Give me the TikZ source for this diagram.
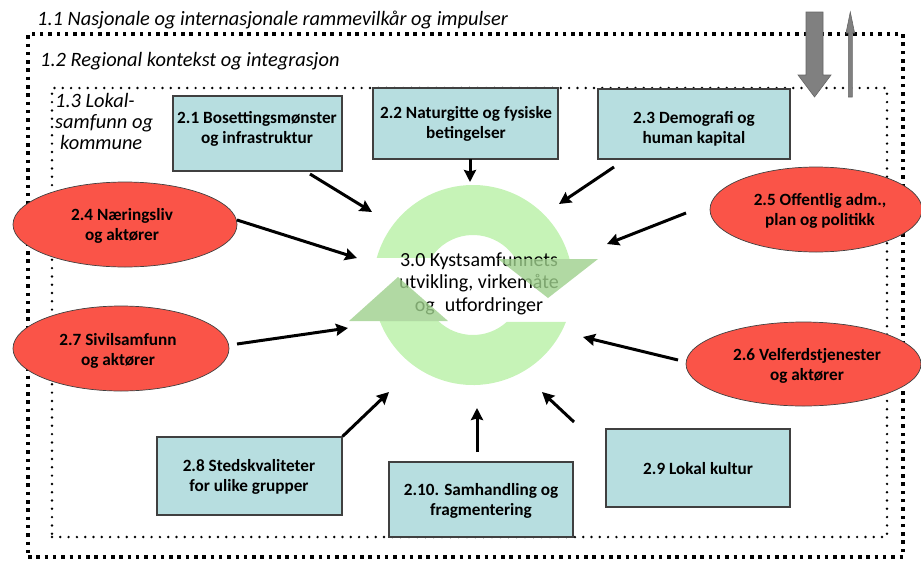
\documentclass[tikz,border=0pt]{standalone}
\usepackage{fontspec}
\setmainfont{Carlito}
\usetikzlibrary{arrows.meta,shapes.geometric,calc}
\definecolor{boxfill}{RGB}{183,222,224}
\definecolor{boxline}{RGB}{64,64,64}
\definecolor{ellfill}{RGB}{250,84,72}
\definecolor{ringgreen}{RGB}{198,243,183}
\definecolor{headgreen}{RGB}{158,208,140}
\definecolor{grayarrow}{RGB}{128,128,128}
\begin{document}
\begin{tikzpicture}[x=1pt,y=-1pt,
  box/.style={draw=boxline, line width=1.2pt, fill=boxfill, inner sep=0pt},
  ell/.style={ellipse, draw=black!75, line width=0.7pt, fill=ellfill, inner sep=0pt},
  lbl/.style={font=\fontsize{17.2}{20}\selectfont\bfseries, align=center, inner sep=0pt},
  conn/.style={line width=3pt, -{Stealth[length=12pt,width=12pt,inset=1.5pt]}},
  outerframe/.style={draw, line width=3.5pt, dash pattern=on 3.5pt off 4.8pt},
  innerframe/.style={draw, line width=2.7pt, line cap=round, dash pattern=on 0pt off 8.3pt},
  ttl/.style={font=\fontsize{20.4}{21}\selectfont\itshape, anchor=base west, inner sep=0pt},
  grayshape/.style={fill=grayarrow, draw=black!60, line width=0.6pt}
]
\useasboundingbox (0,0) rectangle (921,560);

% frames
\node[outerframe, minimum width=875pt, minimum height=523pt, inner sep=0pt] (f12) at (465.5,295.5) {};
\node[innerframe, minimum width=835pt, minimum height=449pt, inner sep=0pt] (f13) at (469.5,312.5) {};

% titles
\node[ttl] (t11) at (37,25) {1.1 Nasjonale og internasjonale rammevilkår og impulser};
\node[ttl] (t12) at (40,66) {1.2 Regional kontekst og integrasjon};
\node[ttl] (t13a) at (55,107) {1.3 Lokal-};
\node[ttl] (t13b) at (55,128) {samfunn og};
\node[ttl] (t13c) at (60,149) {kommune};

% grey arrows
\filldraw[grayshape] (806,12) -- (823,12) -- (823,75) -- (831,75) -- (814.5,97) -- (798,75) -- (806,75) -- cycle;
\filldraw[grayshape] (848.3,97) -- (848.3,33) -- (846,33) -- (850.3,12) -- (854.6,33) -- (852.3,33) -- (852.3,97) -- cycle;

% circular arrows
\coordinate (rc) at (473,285);
\fill[ringgreen] ($(rc)+(195.7:100)$) arc[start angle=195.7,end angle=344.9,radius=100]
   -- ($(rc)+(328.7:50)$) arc[start angle=328.7,end angle=212.7,radius=50] -- cycle;
\fill[ringgreen] ($(rc)+(21.7:100)$) arc[start angle=21.7,end angle=158.9,radius=100]
   -- ($(rc)+(133.9:50)$) arc[start angle=133.9,end angle=47.7,radius=50] -- cycle;

% boxes
\node[box, minimum width=169pt, minimum height=75pt] (b21) at (257.5,133.5) {};
\node[box, minimum width=185pt, minimum height=71pt] (b22) at (465.5,123.5) {};
\node[box, minimum width=192pt, minimum height=70pt] (b23) at (694,124) {};
\node[box, minimum width=185pt, minimum height=78pt] (b28) at (249.5,476) {};
\node[box, minimum width=184pt, minimum height=75pt] (b210) at (481,499.5) {};
\node[box, minimum width=184pt, minimum height=78pt] (b29) at (698,468) {};

% ellipses (over the frames)
\node[ell, minimum width=224pt, minimum height=85pt] (e24) at (125,224.5) {};
\node[ell, minimum width=216pt, minimum height=85pt] (e27) at (121,348.5) {};
\node[ell, minimum width=212pt, minimum height=85pt] (e25) at (816,209.5) {};
\node[ell, minimum width=235pt, minimum height=84pt] (e26) at (803.5,364) {};

% labels
\node[lbl] (t21) at (257,128.5) {2.1 Bosettingsmønster\\og infrastruktur};
\node[lbl] (t22) at (466,124) {2.2 Naturgitte og fysiske\\betingelser};
\node[lbl] (t23) at (694,128.5) {2.3 Demografi og\\human kapital};
\node[lbl] (t24) at (122,226) {2.4 Næringsliv\\og aktører};
\node[lbl] (t25) at (820,210.5) {2.5 Offentlig adm.,\\plan og politikk};
\node[lbl] (t27) at (118,350.5) {2.7 Sivilsamfunn\\og aktører};
\node[lbl] (t26) at (807,365.5) {2.6 Velferdstjenester\\og aktører};
\node[lbl] (t28) at (249,477) {2.8 Stedskvaliteter\\for ulike grupper};
\node[lbl] (t210) at (481,501) {2.10. Samhandling og\\fragmentering};
\node[lbl] (t29) at (698,469) {2.9 Lokal kultur};

% centre text
\node[font=\fontsize{20}{22.5}\selectfont, align=center, inner sep=0pt] (c30) at (479,283.5)
  {3.0 Kystsamfunnets\\utvikling, virkemåte\\og\enspace utfordringer};

% arrowheads of the circular arrows (over the text)
\fill[headgreen, opacity=0.8] (349,321) -- (448,321) -- (398,277) -- cycle;
\fill[headgreen, opacity=0.8] (498,259) -- (598,259) -- (548,298) -- cycle;

% connector end points
\coordinate (s21) at (310,174);  \coordinate (z21) at (372,212);
\coordinate (s22) at (470,159);  \coordinate (z22) at (470,182);
\coordinate (s23) at (614,167);  \coordinate (z23) at (559,204);
\coordinate (s24) at (237,220);  \coordinate (z24) at (357,258);
\coordinate (s25) at (686,213);  \coordinate (z25) at (607,244);
\coordinate (s27) at (237,344);  \coordinate (z27) at (348,328);
\coordinate (z28) at (389,392);
\coordinate (s26) at (678,360);  \coordinate (z26) at (583,337);
\coordinate (s29) at (574,422);  \coordinate (z29) at (542,392);
\coordinate (s210) at (477,452); \coordinate (z210) at (477,408);

\draw[conn] (s21) -- (z21);
\draw[conn] (s22) -- (z22);
\draw[conn] (s23) -- (z23);
\draw[conn] (s24) -- (z24);
\draw[conn] (s25) -- (z25);
\draw[conn] (s27) -- (z27);
\draw[conn] (b28.north east) -- (z28);
\draw[conn] (s26) -- (z26);
\draw[conn] (s29) -- (z29);
\draw[conn] (s210) -- (z210);
\end{tikzpicture}
\end{document}
